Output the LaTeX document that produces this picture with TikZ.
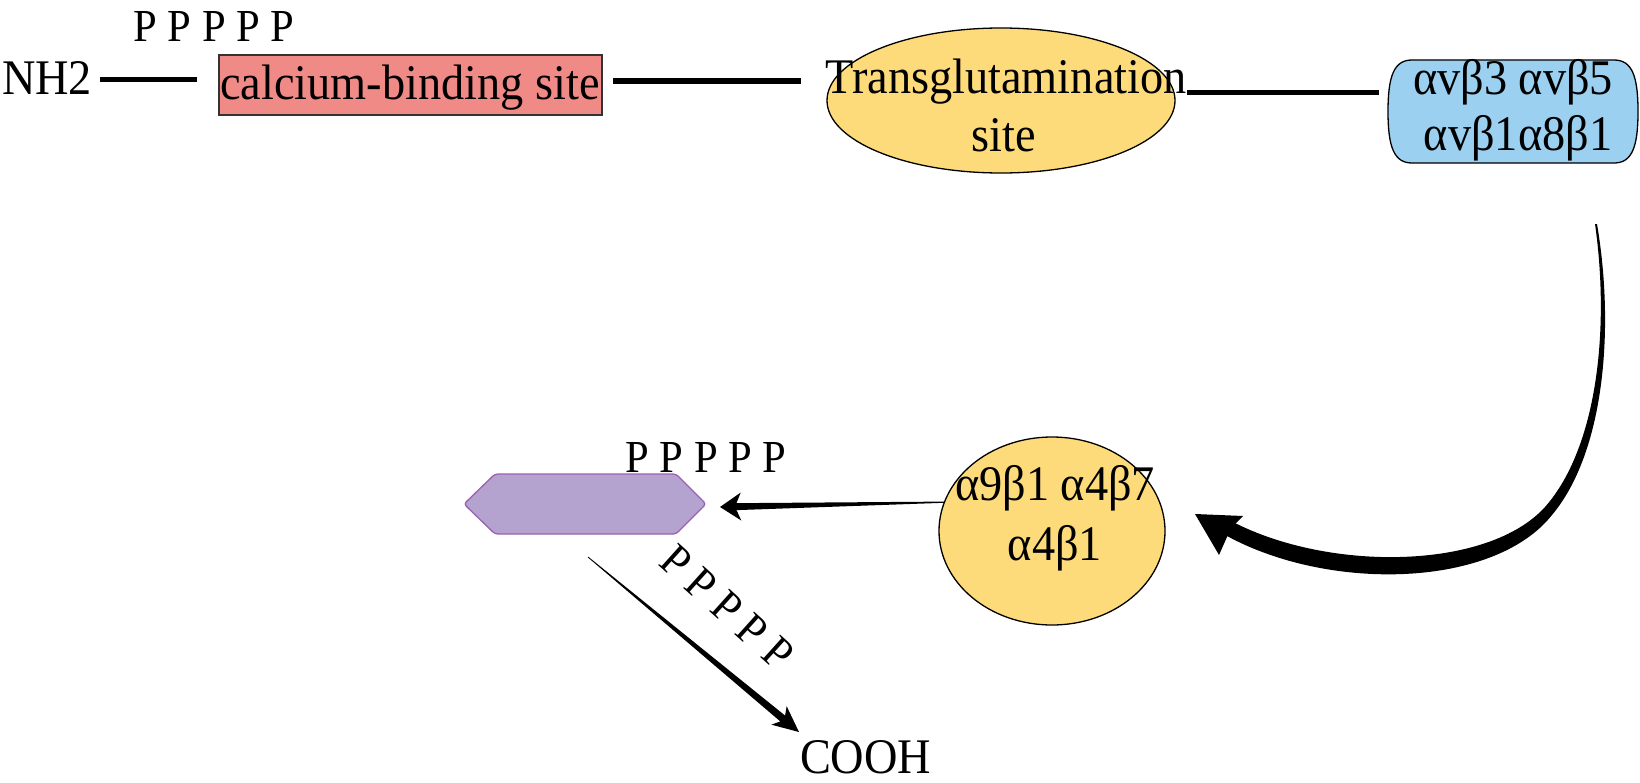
\documentclass[tikz,border=0pt]{standalone}
\usepackage{fontspec}
\setmainfont{Liberation Serif}[FakeStretch=0.93]
\usetikzlibrary{calc,shapes.geometric}
\definecolor{boxred}{RGB}{240,138,134}
\definecolor{siteyellow}{RGB}{253,218,122}
\definecolor{boxblue}{RGB}{155,208,240}
\definecolor{hexfill}{RGB}{181,163,207}
\definecolor{hexdraw}{RGB}{155,96,180}
\newcommand\taperarrow[7]{%
  \coordinate (tpC) at ($(#2)!#5!(#1)$);
  \coordinate (tpN) at ($(#2)!#7!(#1)$);
  \fill ($(#1)!#3!90:(#2)$) -- ($(tpN)!#4!-90:(#1)$) -- ($(tpN)!#4!90:(#1)$) -- ($(#1)!#3!-90:(#2)$) -- cycle;
  \fill (#2) -- ($(tpC)!#6!90:(#2)$) -- (tpN) -- ($(tpC)!#6!-90:(#2)$) -- cycle;
}
\begin{document}
\begin{tikzpicture}[x=1bp,y=-1bp,
  every node/.style={inner sep=0pt,outer sep=0pt},
  txt/.style={font=\fontsize{50}{60}\selectfont},
  ptxt/.style={font=\fontsize{46}{56}\selectfont},
  chain/.style={line width=5.5bp},
  redbox/.style={draw=black!80,line width=1.2bp,fill=boxred,minimum width=383bp,minimum height=60bp},
  yellowshape/.style={ellipse,draw=black,line width=1.3bp,fill=siteyellow},
  blueshape/.style={draw=black,line width=1.3bp,fill=boxblue},
  hexshape/.style={draw=hexdraw,line width=1.3bp,fill=hexfill,rounded corners=3bp}]
\useasboundingbox (0,0) rectangle (1640,783);

% top chain
\node[txt,anchor=base west] (nh2) at (2,94) {NH2};
\node[ptxt,anchor=base] (p1) at (214,42) {P P P P P};
\node[redbox] (cbox) at (410.5,85) {};
\node[txt,anchor=base] (cboxt) at (410,99) {calcium-binding site};
\node[yellowshape,minimum width=348bp,minimum height=145bp] (trans) at (1001,100.5) {};
\node[txt,anchor=base] (transa) at (1006,93) {Transglutamination};
\node[txt,anchor=base] (transb) at (1004,151) {site};

\node[minimum width=250bp,minimum height=103bp] (integ1) at (1513,111.5) {};
\filldraw[blueshape] ([xshift=24bp]integ1.north west) -- ([xshift=-24bp]integ1.north east)
  .. controls ([xshift=-6bp]integ1.north east) and (integ1.east |- 0,76) .. (integ1.east)
  .. controls (integ1.east |- 0,147) and ([xshift=-6bp]integ1.south east) .. ([xshift=-24bp]integ1.south east)
  -- ([xshift=24bp]integ1.south west)
  .. controls ([xshift=6bp]integ1.south west) and (integ1.west |- 0,147) .. (integ1.west)
  .. controls (integ1.west |- 0,76) and ([xshift=6bp]integ1.north west) .. ([xshift=24bp]integ1.north west) -- cycle;
\node[txt,anchor=base] (integ1a) at (1513,94) {αvβ3 αvβ5};
\node[txt,anchor=base] (integ1b) at (1518,150) {αvβ1α8β1};

\draw[chain,shorten <=8bp,shorten >=22bp] ([yshift=-2bp]nh2.east) -- ([yshift=-2bp]nh2.east -| cbox.west);
\draw[chain,shorten <=11bp,shorten >=26bp] ([yshift=4bp]cbox.east) -- ([yshift=4bp]cbox.east -| trans.west);
\draw[chain,shorten <=12bp,shorten >=9bp] ([yshift=8bp]trans.east) -- ([yshift=8bp]trans.east -| integ1.west);

% lower part
\node[yellowshape,minimum width=226bp,minimum height=188bp] (circ) at (1052,531) {};
\node[txt,anchor=base] (circa) at (1055,500) {α9β1 α4β7};
\node[txt,anchor=base] (circb) at (1055,560) {α4β1};

\node[minimum width=242bp,minimum height=60bp] (hex) at (585,504) {};
\filldraw[hexshape] (hex.west) -- ([xshift=31bp]hex.north west) -- ([xshift=-30bp]hex.north east)
  -- (hex.east) -- ([xshift=-30bp]hex.south east) -- ([xshift=31bp]hex.south west) -- cycle;
\node[ptxt,anchor=base] (p2) at (706,472) {P P P P P};

\node[txt,anchor=base west] (cooh) at (800,773) {COOH};
\node[ptxt,rotate=-42] (p3) at (727,607) {P P P P P};

% curved tapered arrow from integ1 to circ
\coordinate (cs) at ([xshift=82bp,yshift=-61bp]integ1.south);
\fill (cs) .. controls (1610,330) and (1597,448) .. (1545,507)
  .. controls (1488,570) and (1330,572) .. (1233,522)
  -- (1227,536) .. controls (1330,592) and (1494,588) .. (1552,515)
  .. controls (1604,453) and (1615,330) .. ([xshift=2bp]cs) -- cycle;
\fill ([xshift=143bp,yshift=17bp]circ.center) -- (1243,516) -- (1231,528) -- (1219,555) -- cycle;

% straight tapered arrows
\coordinate (a1s) at (circ.165);
\coordinate (a1t) at ([xshift=14bp,yshift=-3bp]hex.east);
\taperarrow{a1s}{a1t}{0.6bp}{3.5bp}{21bp}{14bp}{15bp}
\coordinate (a2s) at ([xshift=3bp,yshift=-23bp]hex.south);
\coordinate (a2t) at ([xshift=-1bp,yshift=8bp]cooh.north west);
\taperarrow{a2s}{a2t}{0.4bp}{3.8bp}{26bp}{12bp}{19bp}
\end{tikzpicture}
\end{document}
